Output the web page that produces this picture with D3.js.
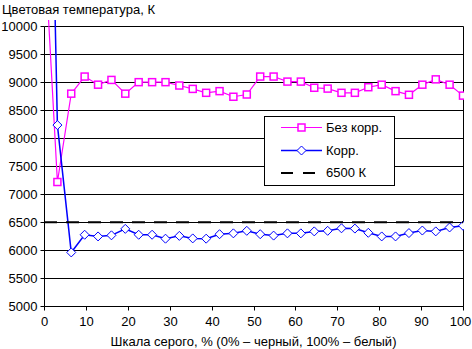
<!DOCTYPE html>
<html><head><meta charset="utf-8">
<script src="https://cdn.jsdelivr.net/npm/d3@7"></script>
<style>
html,body{margin:0;padding:0;background:#fff;}
text{font-family:"Liberation Sans",Arial,sans-serif;font-size:13px;fill:#000;}
</style></head>
<body>
<script>
// Data
const grayLevels = [0, 3.2, 6.5, 9.7, 12.9, 16.1, 19.4, 22.6, 25.8, 29.0, 32.3, 35.5, 38.7, 41.9, 45.2, 48.4,
  51.6, 54.8, 58.1, 61.3, 64.5, 67.7, 71.0, 74.2, 77.4, 80.6, 83.9, 87.1, 90.3, 93.5, 96.8, 100];
const noCorr = [11600, 7210, 8785, 9090, 8945, 9030, 8785, 8990, 8990, 8990, 8930, 8870, 8800, 8830, 8730, 8770,
  9090, 9090, 9000, 9000, 8890, 8875, 8800, 8800, 8900, 8945, 8830, 8765, 8945, 9040, 8945, 8750];
const corr = [19500, 8225, 5955, 6270, 6240, 6260, 6375, 6270, 6270, 6200, 6250, 6205, 6200, 6280, 6295, 6340,
  6280, 6255, 6295, 6295, 6330, 6340, 6385, 6380, 6305, 6240, 6240, 6300, 6345, 6330, 6400, 6430];
const refLine = [6500, 6500];
const refX = [0, 100];
const yTicks = [5000, 5500, 6000, 6500, 7000, 7500, 8000, 8500, 9000, 9500, 10000];
const xTicks = [0, 10, 20, 30, 40, 50, 60, 70, 80, 90, 100];
const seriesNames = ["Без корр.", "Корр.", "6500 К"];
const yTitle = "Цветовая температура, К";
const xTitle = "Шкала серого, % (0% – черный, 100% – белый)";

const W = 472, H = 349;
const L = 44, R = 463, T = 25.5, B = 306;
const x = d3.scaleLinear().domain([0, 100]).range([L, R]);
const y = d3.scaleLinear().domain([5000, 10000]).range([B, T]);
const crisp = v => Math.round(v) + 0.5;

const svg = d3.select("body").append("svg").attr("width", W).attr("height", H);
svg.append("rect").attr("width", W).attr("height", H).attr("fill", "#fff");

// gridlines
svg.append("g").selectAll("line").data(yTicks).join("line")
  .attr("x1", crisp(L)).attr("x2", crisp(R))
  .attr("y1", d => crisp(y(d))).attr("y2", d => crisp(y(d)))
  .attr("stroke", "#000").attr("stroke-width", 1);
// right border
svg.append("line").attr("x1", crisp(R)).attr("x2", crisp(R)).attr("y1", crisp(T)).attr("y2", crisp(B))
  .attr("stroke", "#000");

// axes
const yAxis = d3.axisLeft(y).tickValues(yTicks).tickSize(4).tickPadding(3).tickFormat(d3.format("d"));
const gy = svg.append("g").attr("transform", `translate(${crisp(L)},0.5)`).call(yAxis);
gy.select(".domain").attr("d", `M0,${Math.round(T)}V${Math.round(B)}`).attr("stroke", "#000");
gy.selectAll(".tick").attr("transform", d => `translate(0,${Math.round(y(d))})`);
gy.selectAll("text").attr("font-size", 13).attr("font-family", null).attr("dy", "0.35em");

const xAxis = d3.axisBottom(x).tickValues(xTicks).tickSize(4).tickPadding(6).tickFormat(d3.format("d"));
const gx = svg.append("g").attr("transform", `translate(0.5,${crisp(B)})`).call(xAxis);
gx.select(".domain").attr("d", `M${Math.round(L)},0H${Math.round(R)}`).attr("stroke", "#000");
gx.selectAll(".tick").attr("transform", d => `translate(${Math.round(x(d))},0)`);
gx.selectAll("text").attr("font-size", 13).attr("font-family", null)
  .attr("dx", d => d === 100 ? -3 : 0);

// titles
svg.append("text").attr("x", 2).attr("y", 14).text(yTitle);
svg.append("text").attr("x", (L + R) / 2).attr("y", 346).attr("text-anchor", "middle").text(xTitle);

// clip
svg.append("clipPath").attr("id", "plotclip").append("rect")
  .attr("x", L).attr("y", 20).attr("width", R - L + 1).attr("height", B - 20 + 1);
const plot = svg.append("g").attr("clip-path", "url(#plotclip)");

const pts = vals => vals.map((v, i) => [grayLevels[i], v]);
const line = d3.line().x(d => x(d[0])).y(d => y(d[1]));

const magenta = "#FF00FF", blue = "#0000FF";
const diamond = (cx, cy, r) => `M${cx},${cy - r}L${cx + r},${cy}L${cx},${cy + r}L${cx - r},${cy}Z`;

// series 1
plot.append("path").datum(pts(noCorr)).attr("d", line).attr("fill", "none").attr("stroke", magenta).attr("stroke-width", 1.2);
plot.append("g").selectAll("rect").data(pts(noCorr)).join("rect")
  .attr("x", d => x(d[0]) - 3.5).attr("y", d => y(d[1]) - 3.5).attr("width", 7).attr("height", 7)
  .attr("fill", "#fff").attr("stroke", magenta).attr("stroke-width", 1.5);

// series 2
plot.append("path").datum(pts(corr)).attr("d", line).attr("fill", "none").attr("stroke", blue).attr("stroke-width", 1.5);
plot.append("g").selectAll("path").data(pts(corr)).join("path")
  .attr("d", d => diamond(x(d[0]), y(d[1]), 4.5))
  .attr("fill", "#fff").attr("stroke", blue).attr("stroke-width", 1);

// series 3
plot.append("path").datum(refLine.map((v, i) => [refX[i], v])).attr("d", line)
  .attr("fill", "none").attr("stroke", "#000").attr("stroke-width", 2).attr("stroke-dasharray", "13,9")
  .attr("transform", "translate(0,0.5)");

// legend
const lg = svg.append("g");
lg.append("rect").attr("x", 264.5).attr("y", 116.5).attr("width", 130).attr("height", 69)
  .attr("fill", "#fff").attr("stroke", "#000");
const rows = [127.5, 150.5, 172.5];
lg.append("line").attr("x1", 281).attr("x2", 322).attr("y1", rows[0]).attr("y2", rows[0]).attr("stroke", magenta).attr("stroke-width", 1.2);
lg.append("rect").attr("x", 301.5 - 3.5).attr("y", rows[0] - 3.5).attr("width", 7).attr("height", 7)
  .attr("fill", "#fff").attr("stroke", magenta).attr("stroke-width", 1.5);
lg.append("line").attr("x1", 281).attr("x2", 322).attr("y1", rows[1]).attr("y2", rows[1]).attr("stroke", blue).attr("stroke-width", 1.5);
lg.append("path").attr("d", diamond(301.5, rows[1], 4.5)).attr("fill", "#fff").attr("stroke", blue);
lg.append("line").attr("x1", 281).attr("x2", 317).attr("y1", rows[2] + 0.5).attr("y2", rows[2] + 0.5)
  .attr("stroke", "#000").attr("stroke-width", 2).attr("stroke-dasharray", "12,10");
lg.selectAll("text.lt").data(seriesNames).join("text").attr("class", "lt")
  .attr("x", 326).attr("y", (d, i) => rows[i]).attr("dy", "0.36em").text(d => d);
</script>
</body></html>
